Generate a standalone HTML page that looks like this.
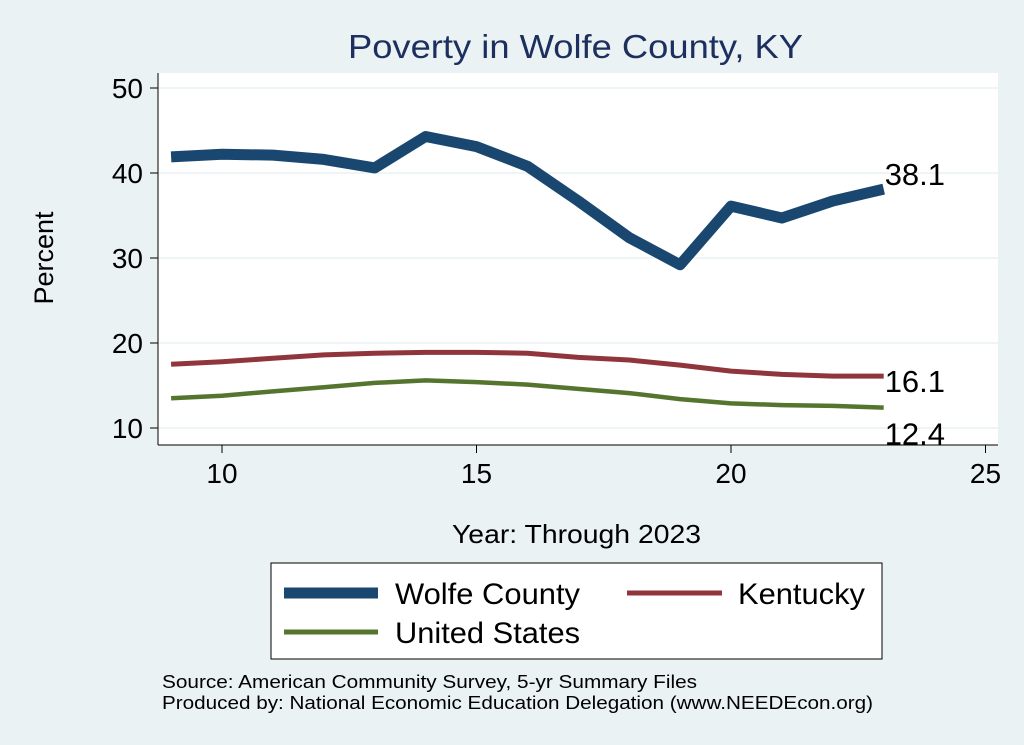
<!DOCTYPE html>
<html><head><meta charset="utf-8"><style>
html,body{margin:0;padding:0;background:#eaf2f3;}
svg{display:block;font-family:"Liberation Sans",Arial,sans-serif;}
</style></head><body>
<svg id="chart" width="1024" height="745" viewBox="0 0 1024 745">
<rect x="0" y="0" width="1024" height="745" fill="#eaf2f3"/>
<text x="348" y="58" textLength="455" lengthAdjust="spacingAndGlyphs" font-size="33" fill="#1c2f5e">Poverty in Wolfe County, KY</text>
<rect x="158" y="73" width="840" height="372" fill="#ffffff"/>
<g id="grid"></g>
<g id="axes"></g>
<g id="series"></g>
<text x="53" y="258" text-anchor="middle" font-size="27" fill="#000" transform="rotate(-90 53 258)">Percent</text>
<text x="452" y="543" textLength="249" lengthAdjust="spacingAndGlyphs" font-size="26" fill="#000">Year: Through 2023</text>
<g>
<rect x="271" y="563" width="611" height="96" fill="#fff" stroke="#000" stroke-width="1"/>
<line x1="284" y1="593" x2="378" y2="593" stroke="#1a476f" stroke-width="11"/>
<text x="395" y="604" textLength="185" lengthAdjust="spacingAndGlyphs" font-size="30" fill="#000">Wolfe County</text>
<line x1="627" y1="593" x2="722" y2="593" stroke="#90353b" stroke-width="5"/>
<text x="738" y="604" textLength="127" lengthAdjust="spacingAndGlyphs" font-size="30" fill="#000">Kentucky</text>
<line x1="284" y1="632" x2="378" y2="632" stroke="#55752f" stroke-width="5"/>
<text x="395" y="643" textLength="185" lengthAdjust="spacingAndGlyphs" font-size="30" fill="#000">United States</text>
</g>
<text x="162" y="688" textLength="535" lengthAdjust="spacingAndGlyphs" font-size="18" fill="#000">Source: American Community Survey, 5-yr Summary Files</text>
<text x="162" y="709" textLength="711" lengthAdjust="spacingAndGlyphs" font-size="18" fill="#000">Produced by: National Economic Education Delegation (www.NEEDEcon.org)</text>
</svg>
<script>
const years = [9,10,11,12,13,14,15,16,17,18,19,20,21,22,23];
const wolfe = [41.9,42.2,42.1,41.6,40.6,44.3,43.1,40.8,36.7,32.4,29.2,36.1,34.7,36.7,38.1];
const kentucky = [17.5,17.8,18.2,18.6,18.8,18.9,18.9,18.8,18.3,18.0,17.4,16.7,16.3,16.1,16.1];
const us = [13.5,13.8,14.3,14.8,15.3,15.6,15.4,15.1,14.6,14.1,13.4,12.9,12.7,12.6,12.4];
const xTicks = [10,15,20,25];
const yTicks = [10,20,30,40,50];

const NS = "http://www.w3.org/2000/svg";
function xs(v){return 222 + (v-10)*50.9;}
function ys(v){return 428 - (v-10)*8.5;}
function mk(tag, attrs, parent){const e=document.createElementNS(NS,tag);for(const k in attrs)e.setAttribute(k,attrs[k]);parent.appendChild(e);return e;}
const grid=document.getElementById('grid'), axes=document.getElementById('axes'), series=document.getElementById('series');

mk('line',{x1:158,y1:73,x2:158,y2:445,stroke:'#000','stroke-width':1},axes);
mk('line',{x1:158,y1:445,x2:998,y2:445,stroke:'#000','stroke-width':1},axes);
yTicks.forEach(t=>{
  const g=mk('line',{x1:159,y1:ys(t),x2:998,y2:ys(t),stroke:'#eaf2f3','stroke-width':1.5},grid);
  
  
  const tk=mk('line',{x1:150,y1:ys(t),x2:158,y2:ys(t),stroke:'#000','stroke-width':1},axes);
  
  
  const tx=mk('text',{x:143,y:ys(t)+10,'text-anchor':'end','font-size':28,fill:'#000'},axes);
  tx.textContent=t;
  
  
});
xTicks.forEach(t=>{
  const tk=mk('line',{x1:xs(t),y1:445,x2:xs(t),y2:453,stroke:'#000','stroke-width':1},axes);
  
  
  const tx=mk('text',{x:xs(t),y:483,'text-anchor':'middle','font-size':28,fill:'#000'},axes);
  tx.textContent=t;
  
  
});
function drawLine(vals,color,w,name,labelDy){
  const d=vals.map((v,i)=>(i?'L':'M')+xs(years[i]).toFixed(1)+','+ys(v).toFixed(1)).join(' ');
  const p=mk('path',{d:d,fill:'none',stroke:color,'stroke-width':w,'stroke-linejoin':'round'},series);
  
  
  const last=vals[vals.length-1];
  const lb=mk('text',{x:xs(years[years.length-1])+1,y:ys(last)+labelDy,'font-size':31,fill:'#000'},series);
  lb.textContent=last.toFixed(1);
  
  
}
drawLine(us,'#55752f',4.5,'us',37);
drawLine(kentucky,'#90353b',5,'kentucky',16);
drawLine(wolfe,'#1a476f',11,'wolfe',-4);
</script>
</body></html>
